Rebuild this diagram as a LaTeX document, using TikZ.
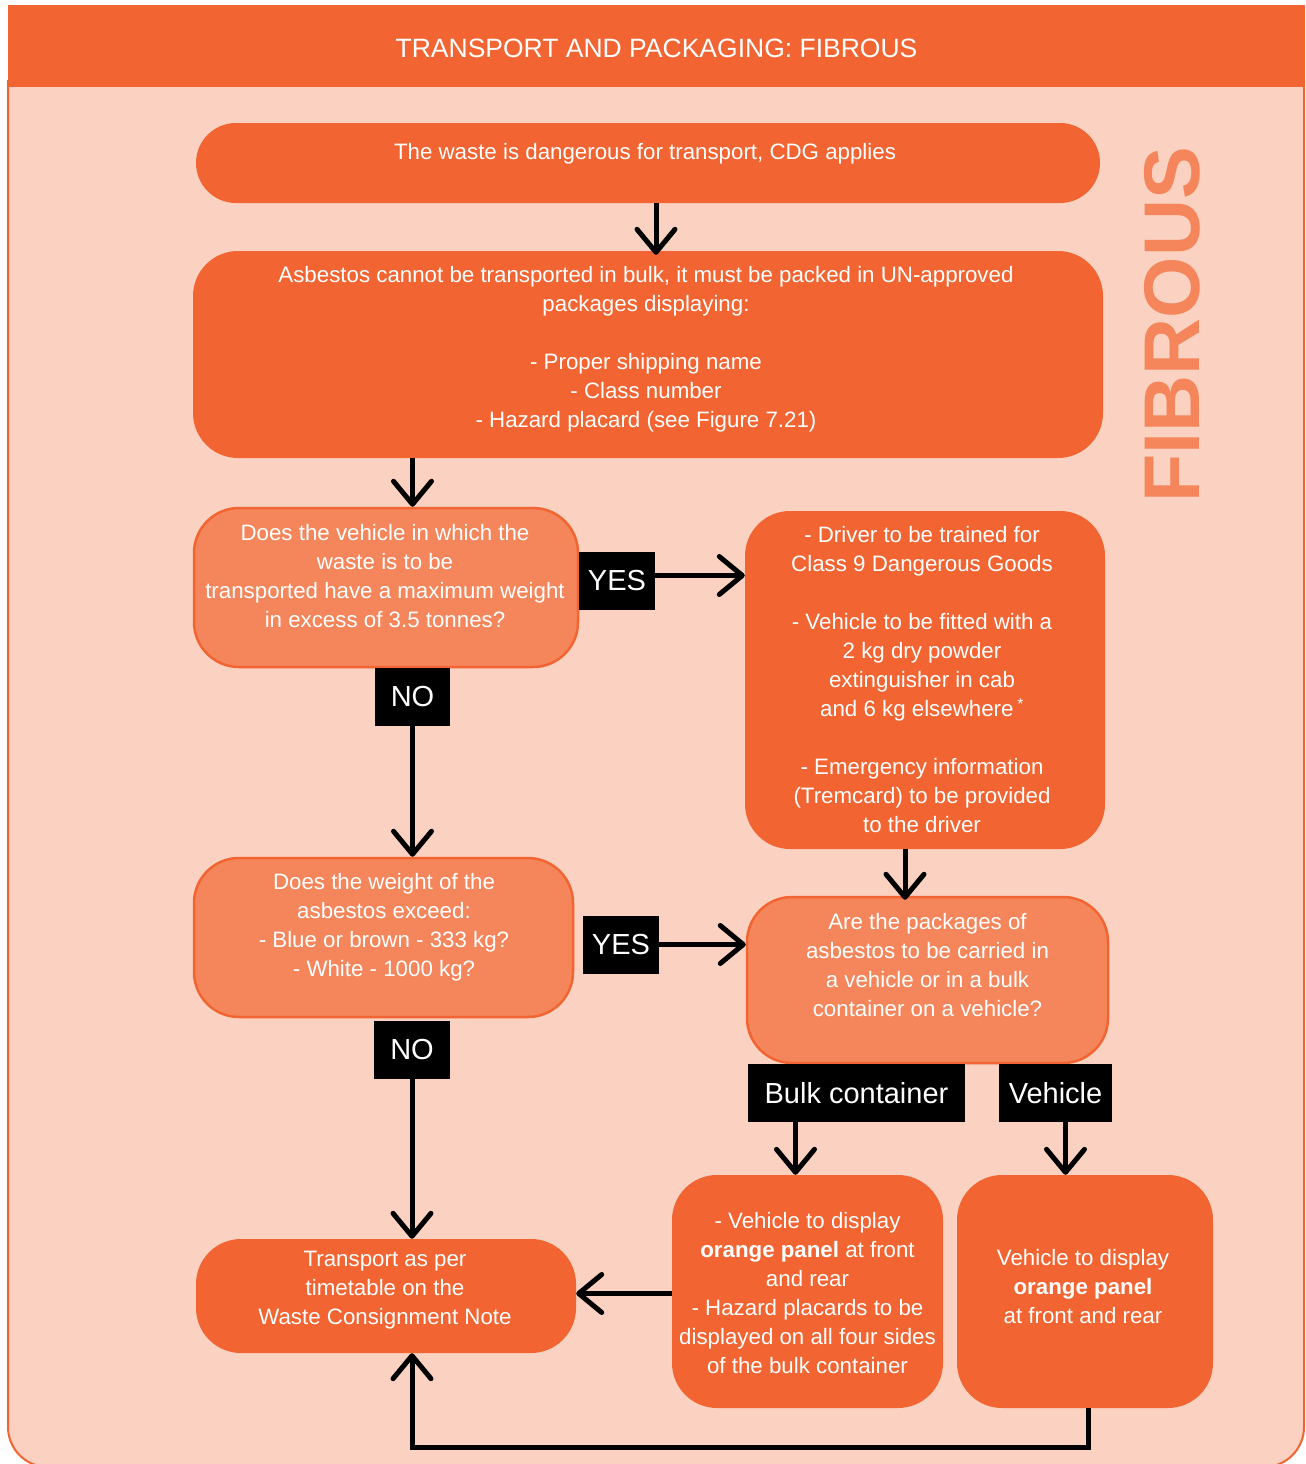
\documentclass[tikz,border=0pt]{standalone}
\usepackage{fontspec}
\setmainfont{Liberation Sans}
\usepackage{xcolor}
\usepackage{tikz}
\usetikzlibrary{calc}
\usetikzlibrary{positioning, arrows.meta}
\definecolor{DarkOrange}{RGB}{242, 101, 50}
\definecolor{LightOrange}{RGB}{245, 134, 91}
\definecolor{Peach}{RGB}{251, 210, 193}
\newcommand{\bodyfont}{\fontsize{22.3}{29}\selectfont}
\newcommand{\tagfont}{\fontsize{29}{29}\selectfont}
\tikzset{
	darkbox/.style={fill=DarkOrange, draw=none, rounded corners=45pt},
	lightbox/.style={fill=LightOrange, draw=DarkOrange, line width=2.5pt, rounded corners=45pt},
	txt/.style={text=white, align=center, inner sep=0pt, font=\bodyfont},
	tag/.style={fill=black, text=white, inner sep=0pt, minimum height=58pt, font=\tagfont},
	arr/.style={line width=5pt, -{Straight Barb[length=23pt,width=38pt,round]}},
}

\begin{document}
\begin{tikzpicture}[x=1pt, y=-1pt]
\useasboundingbox (0,0) rectangle (1306,1464);
\fill[white] (0,0) rectangle (1306,1464);

% frame and title
\draw[fill=Peach, draw=DarkOrange, line width=2pt, rounded corners=40pt] (8,80) -- (8,1467) -- (1304,1467) -- (1304,80);
\node[fill=DarkOrange, minimum width=1297pt, minimum height=82pt, inner sep=0pt] (title) at (656.5,46) {};
\node[inner sep=0pt, text=white, font=\fontsize{26.5}{30}\selectfont] (titletext) at ([yshift=-2.5pt]title.center) {TRANSPORT AND PACKAGING: FIBROUS};
\node[rotate=90, inner sep=0pt, text=LightOrange, font=\fontsize{79}{79}\selectfont\bfseries] (side) at (1172,325) {FIBROUS};

% boxes
\node[darkbox, rounded corners=40pt, minimum width=904pt, minimum height=80pt] (waste) at (648,163) {};
\node[txt] (wastetext) at ([xshift=-3pt, yshift=9pt]waste.center) {The waste is dangerous for transport, CDG applies};

\node[darkbox, minimum width=910pt, minimum height=207pt] (packing) at (648,354.5) {};
\node[txt] (packingtext) at ([xshift=-2pt, yshift=5pt]packing.center) {
	Asbestos cannot be transported in bulk, it must be packed in UN-approved\\
	packages displaying:\\[29pt]
	- Proper shipping name\\
	- Class number\\
	- Hazard placard (see Figure 7.21)
};

\node[lightbox, minimum width=384pt, minimum height=159pt] (weightq) at (386,587.5) {};
\node[txt] (weightqtext) at ([xshift=-1pt, yshift=11pt]weightq.center) {
	Does the vehicle in which the\\
	waste is to be\\
	transported have a maximum weight\\
	in excess of 3.5 tonnes?
};

\node[darkbox, minimum width=360pt, minimum height=338pt] (duties) at (925,680) {};
\node[txt] (dutiestext) at ([xshift=-3pt, yshift=0pt]duties.center) {
	- Driver to be trained for\\
	Class 9 Dangerous Goods\\[29pt]
	- Vehicle to be fitted with a\\
	2 kg dry powder\\
	extinguisher in cab\\
	and 6 kg elsewhere\,\textsuperscript{*}\\[29pt]
	- Emergency information\\
	(Tremcard) to be provided\\
	to the driver
};

\node[lightbox, minimum width=379pt, minimum height=159pt] (amountq) at (383.5,937.5) {};
\node[txt] (amountqtext) at ([xshift=0.5pt, yshift=10.5pt]amountq.center) {
	Does the weight of the\\
	asbestos exceed:\\
	- Blue or brown - 333 kg?\\
	- White - 1000 kg?
};

\node[lightbox, minimum width=361pt, minimum height=166pt] (carryq) at (927.5,980) {};
\node[txt] (carryqtext) at ([yshift=15pt]carryq.center) {
	Are the packages of\\
	asbestos to be carried in\\
	a vehicle or in a bulk\\
	container on a vehicle?
};

\node[darkbox, minimum width=271pt, minimum height=233pt] (contpanel) at (807.5,1291.5) {};
\node[txt] (contpaneltext) at ([yshift=-2pt]contpanel.center) {
	- Vehicle to display\\
	\textbf{orange panel} at front\\
	and rear\\
	- Hazard placards to be\\
	displayed on all four sides\\
	of the bulk container
};

\node[darkbox, minimum width=256pt, minimum height=233pt] (vehpanel) at (1085,1291.5) {};
\node[txt] (vehpaneltext) at ([xshift=-2pt, yshift=4.5pt]vehpanel.center) {
	Vehicle to display\\
	\textbf{orange panel}\\
	at front and rear
};

\node[darkbox, minimum width=380pt, minimum height=114pt] (timetable) at (386,1296) {};
\node[txt] (timetabletext) at ([xshift=-1pt, yshift=6pt]timetable.center) {
	Transport as per\\
	timetable on the\\
	Waste Consignment Note
};

% labels
\node[tag, minimum width=76pt] (yesA) at (617,580.5) {YES};
\node[tag, minimum width=75pt] (noA) at (412.5,697) {NO};
\node[tag, minimum width=76pt] (yesB) at (621,944.5) {YES};
\node[tag, minimum width=76pt] (noB) at (412,1050) {NO};
\node[tag, minimum width=217pt] (tagbulk) at (856.5,1093) {Bulk container};
\node[tag, minimum width=113pt] (tagveh) at (1055.5,1093) {Vehicle};

% arrows
\draw[arr] ([xshift=8pt]waste.south) -- ([xshift=8pt, yshift=-4pt]packing.north);
\draw[arr] (packing.south -| noA) -- (weightq.north -| noA);
\draw[arr] ([yshift=5pt]yesA.east) -- ([yshift=5pt]yesA.east -| duties.west);
\draw[arr] (noA.south) -- (noA.south |- amountq.north);
\draw[arr] ([xshift=-20pt]duties.south) -- ([xshift=-20pt, yshift=-4pt]duties.south |- carryq.north);
\draw[arr] (yesB.east) -- (yesB.east -| carryq.west);
\draw[arr] (noB.south) -- (noB.south |- timetable.north);
\draw[arr] ([xshift=-61pt]tagbulk.south) -- ([xshift=-61pt]tagbulk.south |- contpanel.north);
\draw[arr] ([xshift=10pt]tagveh.south) -- ([xshift=10pt]tagveh.south |- vehpanel.north);
\draw[arr] ([yshift=-2pt]contpanel.west) -- ([yshift=-2pt]contpanel.west -| timetable.east);
\draw[arr] ([xshift=3pt]vehpanel.south) -- ++(0,39) -| (timetable.south -| noB);
\end{tikzpicture}
\end{document}
